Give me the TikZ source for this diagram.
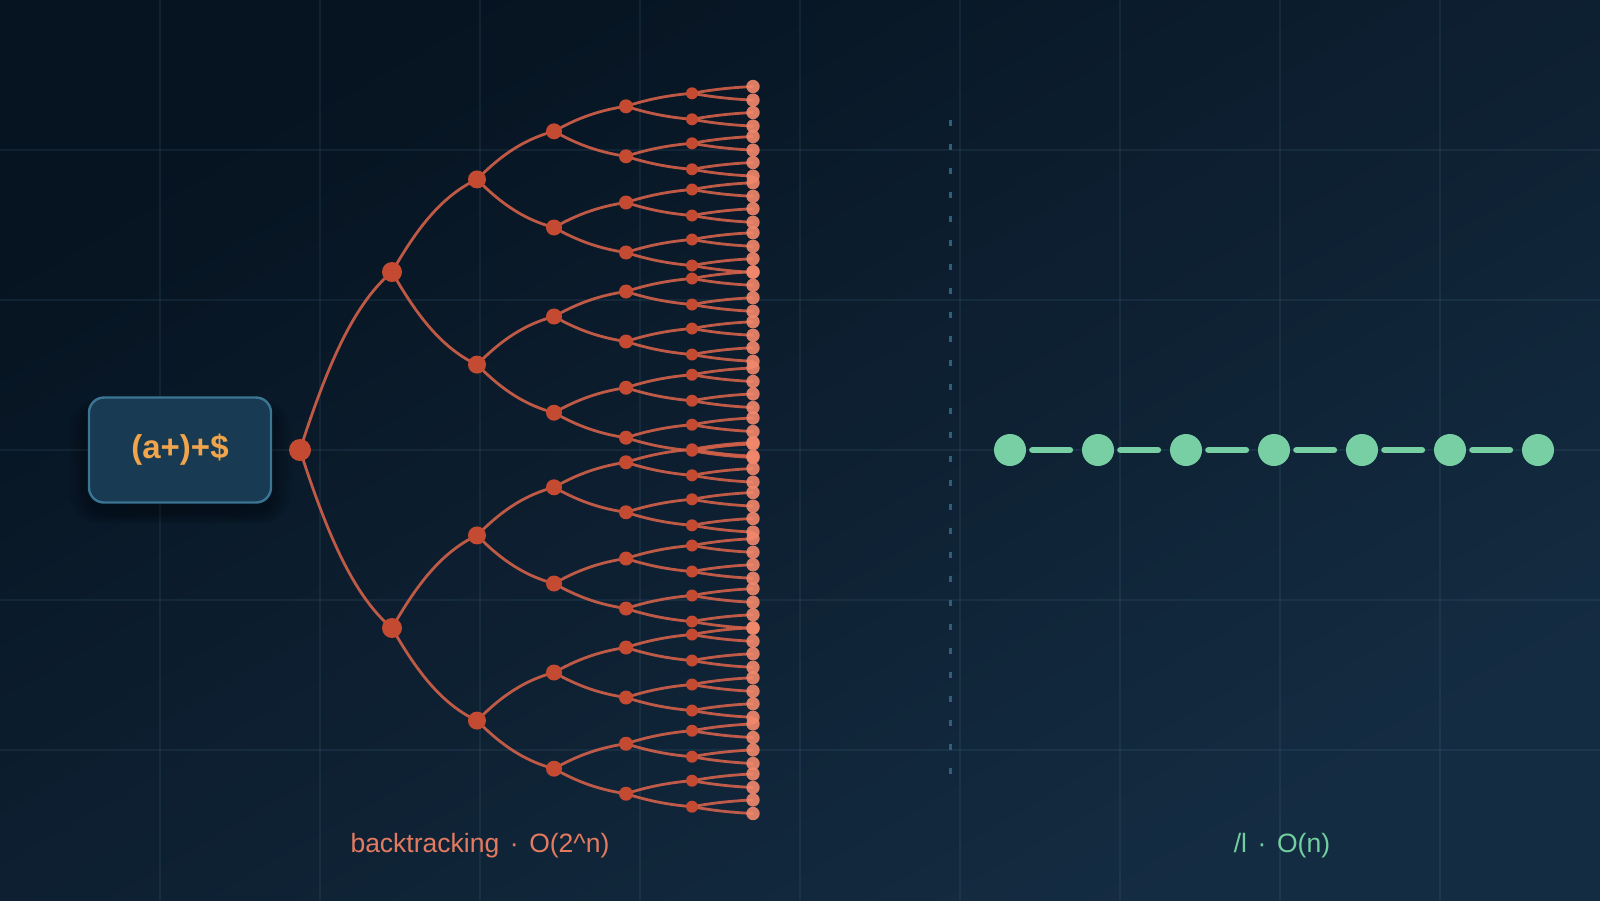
\documentclass[tikz,border=0pt]{standalone}
\usepackage{fontspec}
\setmainfont{Liberation Sans}
\usetikzlibrary{calc}
\pgfdeclarelayer{bg}
\pgfdeclarelayer{edges}
\pgfsetlayers{bg,edges,main}
\definecolor{bgTL}{HTML}{061320}
\definecolor{bgBR}{HTML}{142C42}
\definecolor{gridc}{HTML}{5B8AA6}
\definecolor{nodec}{HTML}{C44B32}
\definecolor{edgec}{HTML}{D3614A}
\definecolor{leafc}{HTML}{F2886C}
\definecolor{boxfill}{HTML}{183A52}
\definecolor{boxline}{HTML}{3B7594}
\definecolor{boxtext}{HTML}{F0A44B}
\definecolor{divc}{HTML}{2F5F7E}
\definecolor{greenc}{HTML}{78CFA3}
\definecolor{salmon}{HTML}{E47A5F}
\definecolor{greentext}{HTML}{72CFA0}
\begin{document}
\begin{tikzpicture}[x=1pt,y=-1pt,
  gridline/.style={draw=gridc, draw opacity=0.12, line width=1.2pt},
  tn/.style={circle, fill=nodec, inner sep=0pt, draw=none},
  leafnode/.style={circle, fill=leafc, fill opacity=0.9, inner sep=0pt, draw=none, minimum size=13.4pt},
  edge/.style={draw=edgec, draw opacity=0.9, line width=2.8pt},
  srcbox/.style={rounded corners=15pt, fill=boxfill, draw=boxline, line width=2.4pt,
     minimum width=182pt, minimum height=105pt, inner sep=0pt, text=boxtext,
     font=\fontsize{33}{40}\selectfont\bfseries},
  shadowlayer/.style={fill=black, fill opacity=0.06, draw=none},
  divider/.style={draw=divc, line width=3pt, dash pattern=on 6pt off 18pt},
  gnode/.style={circle, fill=greenc, inner sep=0pt, minimum size=32pt, draw=none},
  gbar/.style={draw=greenc, line width=6.7pt, line cap=round},
  lbl/.style={font=\fontsize{26.5}{30}\selectfont, inner sep=0pt, anchor=base}
]
\useasboundingbox (0,0) rectangle (1600,900);
% background
\begin{pgfonlayer}{bg}
\shade[top color=bgTL, bottom color=bgBR, shading angle=30] (0,0) rectangle (1600,900);
\foreach \gx in {160,320,...,1440} \draw[gridline] (\gx,0) -- (\gx,900);
\foreach \gy in {150,300,...,750} \draw[gridline] (0,\gy) -- (1600,\gy);
\end{pgfonlayer}

% soft shadow of the source box
\foreach \e in {0,4,8,12,16,20}
  \fill[shadowlayer, rounded corners={15pt+\e*0.8pt}] ({89-\e},{409-\e*0.5}) rectangle ({271+\e},{514+\e*0.5});

% source box
\node[srcbox] (src) at (180,450) {\raisebox{-3pt}{(a+)+\$}};

% tree nodes
\node[tn, minimum size=22pt] (n-0-0) at (300,450) {};
\foreach \k/\pk/\dx/\off/\r in {1/0/92/178/10, 2/1/85/92.6/9, 3/2/77/48.1/8, 4/3/72/25/7, 5/4/66/13/6}{
  \pgfmathtruncatemacro\nn{2^\k-1}
  \foreach \i in {0,...,\nn}{
    \pgfmathtruncatemacro\pidx{floor(\i/2)}
    \pgfmathtruncatemacro\s{2*mod(\i,2)-1}
    \pgfmathsetmacro\ny{\s*\off}
    \node[tn, minimum size={2*\r*1pt}] (n-\k-\i) at ($(n-\pk-\pidx)+(\dx,\ny)$) {};
  }
}
\foreach \i in {0,...,63}{
  \pgfmathtruncatemacro\pidx{floor(\i/2)}
  \pgfmathtruncatemacro\s{2*mod(\i,2)-1}
  \pgfmathsetmacro\ny{\s*6.8}
  \node[leafnode] (n-6-\i) at ($(n-5-\pidx)+(61,\ny)$) {};
}

% tree edges
\begin{pgfonlayer}{edges}
\foreach \k/\pk/\dx/\off in {1/0/92/178, 2/1/85/92.6, 3/2/77/48.1, 4/3/72/25, 5/4/66/13, 6/5/61/6.8}{
  \pgfmathtruncatemacro\nn{2^\k-1}
  \foreach \i in {0,...,\nn}{
    \pgfmathtruncatemacro\pidx{floor(\i/2)}
    \pgfmathtruncatemacro\s{2*mod(\i,2)-1}
    \pgfmathsetmacro\ax{0.25*\dx}
    \pgfmathsetmacro\ay{0.4*\s*\off}
    \pgfmathsetmacro\bx{-0.45*\dx}
    \pgfmathsetmacro\by{-0.19*\s*\off}
    \draw[edge] (n-\pk-\pidx.center) .. controls ($(n-\pk-\pidx)+(\ax,\ay)$) and ($(n-\k-\i)+(\bx,\by)$) .. (n-\k-\i.center);
  }
}
\end{pgfonlayer}

% divider
\coordinate (d1) at (950,120);
\coordinate (d2) at (950,780);
\draw[divider] (d1) -- (d2);

% linear chain
\foreach \i in {0,...,6} \node[gnode] (g\i) at ({1010+88*\i},450) {};
\foreach \i [evaluate=\i as \j using int(\i+1)] in {0,...,5}
  \draw[gbar] ([xshift=6.3pt]g\i.east) -- ([xshift=-12pt]g\j.west);

% labels
\node[lbl, text=salmon] (lt) at (480,852) {backtracking\hspace{0.4em}·\hspace{0.4em}O(2\textasciicircum n)};
\node[lbl, text=greentext] (rt) at (1282,852) {/l\hspace{0.4em}·\hspace{0.4em}O(n)};
\end{tikzpicture}
\end{document}
